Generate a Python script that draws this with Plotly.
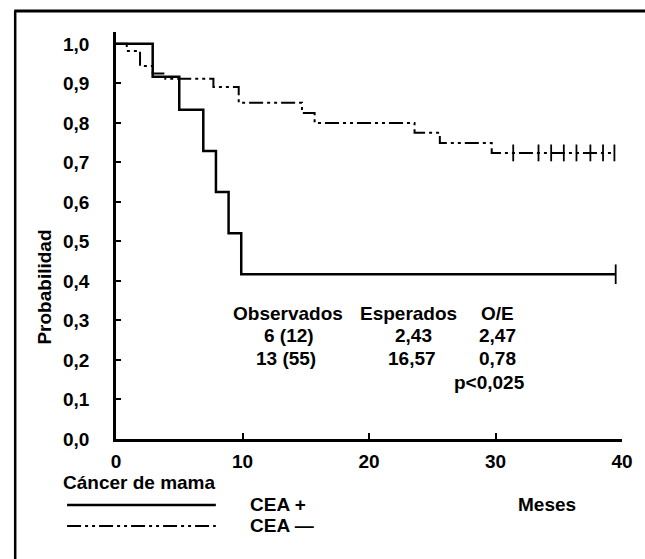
import plotly.graph_objects as go

# ---- data ----
# CEA + (solid), Kaplan-Meier steps: time of step (months) and survival after it
cea_pos_t = [0, 2.9, 5.0, 6.9, 7.9, 8.9, 9.9, 39.5]
cea_pos_p = [1.0, 0.917, 0.833, 0.729, 0.625, 0.521, 0.417, 0.417]
cea_pos_cens_t = [39.5]
cea_pos_cens_p = [0.417]

# CEA - (dash-dot-dot)
cea_neg_t = [0, 0.85, 1.9, 2.9, 3.9, 7.7, 9.7, 14.7, 15.7, 23.6, 25.6, 29.7, 39.4]
cea_neg_p = [1.0, 0.982, 0.944, 0.925, 0.912, 0.891, 0.851, 0.825, 0.800, 0.775, 0.749, 0.724, 0.724]
cea_neg_cens_t = [31.4, 33.4, 34.4, 35.4, 36.4, 37.5, 38.5, 39.4]
cea_neg_cens_p = [0.724] * 8

y_tick_vals = [0.0, 0.1, 0.2, 0.3, 0.4, 0.5, 0.6, 0.7, 0.8, 0.9, 1.0]
y_tick_text = ["0,0", "0,1", "0,2", "0,3", "0,4", "0,5", "0,6", "0,7", "0,8", "0,9", "1,0"]
x_tick_vals = [0, 10, 20, 30, 40]
x_tick_text = ["0", "10", "20", "30", "40"]

table_header = ["Observados", "Esperados", "O/E"]
table_row1 = ["6 (12)", "2,43", "2,47"]
table_row2 = ["13 (55)", "16,57", "0,78"]
p_text = "p<0,025"

# ---- layout geometry (screen pixels) ----
W, H = 645, 559
PLOT_X0, PLOT_X1 = 116, 633   # px of x=0 and x=40
PLOT_Y0, PLOT_Y1 = 439, 32    # px of y=0 and top of range
L = PLOT_X0
R = W - PLOT_X1
T = PLOT_Y1
B = H - PLOT_Y0
PW, PH = W - L - R, H - T - B
FONT = "Liberation Sans, Arial, sans-serif"
FS = 19


def xp(px):
    return (px - L) / PW


def yp(py):
    return (H - B - py) / PH


DASH = "14px,4px,3px,4px,3px,4px"

fig = go.Figure()
fig.add_trace(go.Scatter(x=cea_pos_t, y=cea_pos_p, mode="lines", line=dict(color="black", width=2.5, shape="hv"),
                         cliponaxis=False, showlegend=False))
fig.add_trace(go.Scatter(x=cea_neg_t, y=cea_neg_p, mode="lines",
                         line=dict(color="black", width=2, shape="hv", dash=DASH),
                         cliponaxis=False, showlegend=False))
fig.add_trace(go.Scatter(x=cea_pos_cens_t, y=cea_pos_cens_p, mode="markers",
                         marker=dict(symbol="line-ns", size=14, line=dict(color="black", width=1.8)),
                         cliponaxis=False, showlegend=False))
fig.add_trace(go.Scatter(x=cea_neg_cens_t, y=cea_neg_cens_p, mode="markers",
                         marker=dict(symbol="line-ns", size=12, line=dict(color="black", width=1.8)),
                         cliponaxis=False, showlegend=False))

tickfont = dict(family=FONT, size=FS, color="black", weight="bold")
fig.update_xaxes(range=[0, 40], tickvals=x_tick_vals, ticktext=x_tick_text, showgrid=False, zeroline=False,
                 showline=True, linecolor="black", linewidth=2.5, ticks="inside", ticklen=6, tickwidth=1.5,
                 tickcolor="black", tickfont=tickfont, ticklabelstandoff=3, ticklabeloverflow="allow")
fig.update_yaxes(range=[0, 1.03], tickvals=y_tick_vals, ticktext=y_tick_text, showgrid=False, zeroline=False,
                 showline=True, linecolor="black", linewidth=2.5, ticks="inside", ticklen=5, tickwidth=2,
                 tickcolor="black", tickfont=tickfont, ticklabelstandoff=20, ticklabeloverflow="allow")

ann = []


def text(s, px, py, xanchor="center", size=FS, angle=0):
    ann.append(dict(text=s, x=xp(px), y=yp(py), xref="paper", yref="paper", xanchor=xanchor, yanchor="middle",
                    showarrow=False, textangle=angle,
                    font=dict(family=FONT, size=size, color="black", weight="bold")))


text("Probabilidad", 42, 287, angle=-90)
for s, cx in zip(table_header, [292, 415, 506]):
    text(s, cx, 313)
for s, cx in zip(table_row1, [293, 420, 506]):
    text(s, cx, 335)
for s, cx in zip(table_row2, [290, 418, 506]):
    text(s, cx, 358)
text(p_text, 498, 382)

text("Cáncer de mama", 140, 482)
text("CEA +", 251, 504, xanchor="left")
text("CEA —", 251, 525, xanchor="left")
text("Meses", 556, 504)

shapes = [
    # legend line samples
    dict(type="line", xref="paper", yref="paper", x0=xp(66), x1=xp(218), y0=yp(505), y1=yp(505),
         line=dict(color="black", width=2.5)),
    dict(type="line", xref="paper", yref="paper", x0=xp(66), x1=xp(218), y0=yp(526), y1=yp(526),
         line=dict(color="black", width=2, dash=DASH)),
    # frame of the figure (left and top)
    dict(type="line", xref="paper", yref="paper", x0=xp(13), x1=xp(13), y0=yp(11), y1=yp(570),
         line=dict(color="black", width=2.5)),
    dict(type="line", xref="paper", yref="paper", x0=xp(12), x1=xp(660), y0=yp(11), y1=yp(11),
         line=dict(color="black", width=3)),
]

fig.update_layout(width=W, height=H, margin=dict(l=L, r=R, t=T, b=B), plot_bgcolor="white",
                  paper_bgcolor="white", annotations=ann, shapes=shapes, showlegend=False)

fig.write_html("out.html", config={"displayModeBar": False},
               post_script="document.body.style.margin='0';document.body.style.overflow='hidden';")
